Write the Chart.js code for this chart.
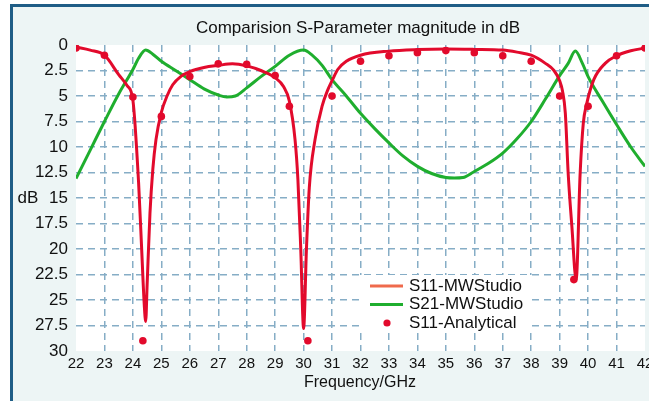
<!DOCTYPE html>
<html>
<head>
<meta charset="utf-8">
<script src="https://cdn.jsdelivr.net/npm/chart.js@4.4.1/dist/chart.umd.min.js"></script>
<style>
  html, body { margin: 0; padding: 0; background: #fff; }
  #wrap { position: relative; width: 649px; height: 401px; overflow: hidden; }
  #frame { position: absolute; left: 10px; top: 4px; width: 700px; height: 500px;
           background: #edf5f5; border-left: 3px solid #1f5d86; border-top: 3px solid #1f5d86; }
  #c { position: absolute; left: 0; top: 0; }
</style>
</head>
<body>
<div id="wrap"><div id="frame"></div><canvas id="c" width="649" height="401"></canvas></div>
<script>
  "use strict";

  // S11 from the field solver
  const s11Freq = [22, 22.5, 23, 23.5, 23.8, 24, 24.2, 24.3, 24.4, 24.45, 24.5, 24.6, 24.7, 24.81, 25, 25.2, 25.4, 25.7, 26, 26.5, 27, 27.5, 28, 28.5, 29, 29.3, 29.5, 29.7, 29.8, 29.9, 30, 30.1, 30.2, 30.4, 30.65, 30.85, 31, 31.2, 31.5, 32, 33, 34, 35, 36, 37, 37.5, 38, 38.5, 38.8, 39, 39.1, 39.2, 39.3, 39.43, 39.58, 39.72, 39.83, 39.94, 40.2, 40.6, 41, 41.5, 42];
  const s11Db = [0.2, 0.5, 1.0, 2.9, 4.0, 5.4, 13.5, 19.5, 25.5, 27.1, 23.5, 16.5, 12.2, 9.3, 6.6, 5.0, 3.9, 3.05, 2.6, 2.2, 2.0, 1.85, 2.05, 2.5, 3.2, 4.1, 5.5, 9.3, 13.2, 20, 27.8, 20, 14, 9.3, 6.0, 4.4, 3.5, 2.4, 1.6, 1.0, 0.6, 0.45, 0.4, 0.43, 0.5, 0.7, 1.0, 1.8, 2.5, 3.5, 4.5, 6.7, 12.6, 17.8, 23, 12.6, 7.7, 5.9, 3.4, 1.8, 1.05, 0.56, 0.3];

  // S21 from the field solver
  const s21Freq = [22, 22.5, 23, 23.5, 24, 24.2, 24.45, 24.7, 25, 25.5, 26, 26.5, 27, 27.3, 27.6, 28, 28.5, 29, 29.5, 30, 30.3, 30.65, 31, 31.5, 32, 32.5, 33, 33.5, 34, 34.5, 35, 35.3, 35.6, 36, 36.5, 37, 37.5, 38, 38.5, 39, 39.3, 39.55, 39.8, 40, 40.5, 41, 41.5, 42];
  const s21Db = [13.1, 10.3, 7.5, 4.8, 2.4, 1.3, 0.5, 0.9, 1.6, 2.5, 3.4, 4.3, 4.9, 5.1, 5.0, 4.2, 3.1, 2.1, 1.0, 0.5, 1.0, 2.0, 3.4, 5.0, 6.7, 8.2, 9.6, 10.9, 11.9, 12.6, 13.0, 13.05, 13.0, 12.4, 11.6, 10.6, 9.2, 7.5, 5.3, 3.0, 1.8, 0.6, 1.8, 3.1, 5.5, 7.8, 10.0, 11.9];

  // S11 analytical model
  const anaFreq = [22, 23, 24, 24.35, 25, 26, 27, 28, 29, 29.5, 30.15, 31, 32, 33, 34, 35, 36, 37, 38, 39, 39.5, 40, 41, 42];
  const anaDb = [0.3, 1.0, 5.1, 29.0, 7.0, 3.1, 1.85, 1.9, 3.0, 6.0, 29.0, 5.0, 1.6, 1.05, 0.75, 0.55, 0.75, 1.05, 1.6, 5.0, 23.0, 6.0, 1.05, 0.3];

  const seriesNames = ["S11-MWStudio", "S21-MWStudio", "S11-Analytical"];
  const xRange = [22, 42];
  const yRange = [0, 30];

  const RED = "#e20a2c", GREEN = "#1fae2e", LEGEND_S11 = "#ef6a4c", GRID = "#86adc6";
  const FONT = '"Liberation Sans", Arial, sans-serif';

  const toPoints = (xs, ys) => xs.map((x, i) => ({ x: x, y: ys[i] }));
  const innerGrid = ctx => (ctx.index === 0 || ctx.index === ctx.scale.ticks.length - 1) ? "rgba(0,0,0,0)" : GRID;

  const decorPlugin = {
    id: "decor",
    beforeDraw(chart) {
      const { ctx, chartArea: a } = chart;
      ctx.save();
      ctx.fillStyle = "#fff";
      ctx.fillRect(a.left, a.top, a.right - a.left, a.bottom - a.top);
      ctx.restore();
    },
    afterDraw(chart) {
      const { ctx, chartArea: a } = chart;
      ctx.save();
      ctx.fillStyle = "#111";
      ctx.textBaseline = "middle";
      ctx.textAlign = "center";
      ctx.font = "17px " + FONT;
      ctx.fillText("Comparision S-Parameter magnitude in dB", 358, 28);
      ctx.fillText("dB", 28, (a.top + a.bottom) / 2);
      ctx.font = "16px " + FONT;
      ctx.fillText("Frequency/GHz", 360, 383);

      // legend inside the plot
      const lx = 370, ly = 286, row = 18.5;
      ctx.fillStyle = "#fff";
      ctx.fillRect(360, 275, 172, 58);
      ctx.lineWidth = 3;
      ctx.strokeStyle = LEGEND_S11;
      ctx.beginPath(); ctx.moveTo(lx, ly); ctx.lineTo(lx + 33, ly); ctx.stroke();
      ctx.strokeStyle = GREEN;
      ctx.beginPath(); ctx.moveTo(lx, ly + row); ctx.lineTo(lx + 33, ly + row); ctx.stroke();
      ctx.fillStyle = RED;
      ctx.beginPath(); ctx.arc(lx + 17, ly + 2 * row, 3.6, 0, Math.PI * 2); ctx.fill();
      ctx.fillStyle = "#111";
      ctx.textAlign = "left";
      ctx.font = "17px " + FONT;
      seriesNames.forEach((n, i) => ctx.fillText(n, 409, ly + i * row));
      ctx.restore();
    }
  };

  new Chart(document.getElementById("c"), {
    type: "line",
    data: {
      datasets: [
        { label: seriesNames[0], data: toPoints(s11Freq, s11Db), borderColor: RED, borderWidth: 3,
          pointRadius: 0, cubicInterpolationMode: "monotone", order: 1 },
        { label: seriesNames[1], data: toPoints(s21Freq, s21Db), borderColor: GREEN, borderWidth: 3,
          pointRadius: 0, cubicInterpolationMode: "monotone", order: 2 },
        { label: seriesNames[2], data: toPoints(anaFreq, anaDb), showLine: false, pointRadius: 3.8,
          pointBackgroundColor: RED, pointBorderWidth: 0, order: 0 }
      ]
    },
    options: {
      responsive: false,
      animation: false,
      devicePixelRatio: 1,
      layout: { padding: { top: 45, right: 4, bottom: 0, left: 0 } },
      plugins: { legend: { display: false }, tooltip: { enabled: false }, title: { display: false } },
      scales: {
        x: {
          type: "linear", min: xRange[0], max: xRange[1],
          ticks: { stepSize: 1, autoSkip: false, maxRotation: 0, color: "#111", padding: 4,
                   font: { family: FONT, size: 15 } },
          grid: { color: innerGrid, lineWidth: 1.5, drawTicks: false },
          border: { display: false, dash: [7, 5] },
          afterFit(s) { s.height = 50; s.paddingLeft = 0; s.paddingRight = 0; }
        },
        y: {
          type: "linear", reverse: true, min: yRange[0], max: yRange[1],
          ticks: { stepSize: 2.5, color: "#111", padding: 8, font: { family: FONT, size: 17 },
                   callback: v => String(v) },
          grid: { color: innerGrid, lineWidth: 1.5, drawTicks: false },
          border: { display: false, dash: [7, 5] },
          afterFit(s) { s.width = 76; s.paddingTop = 0; s.paddingBottom = 0; }
        }
      }
    },
    plugins: [decorPlugin]
  });
</script>
</body>
</html>
